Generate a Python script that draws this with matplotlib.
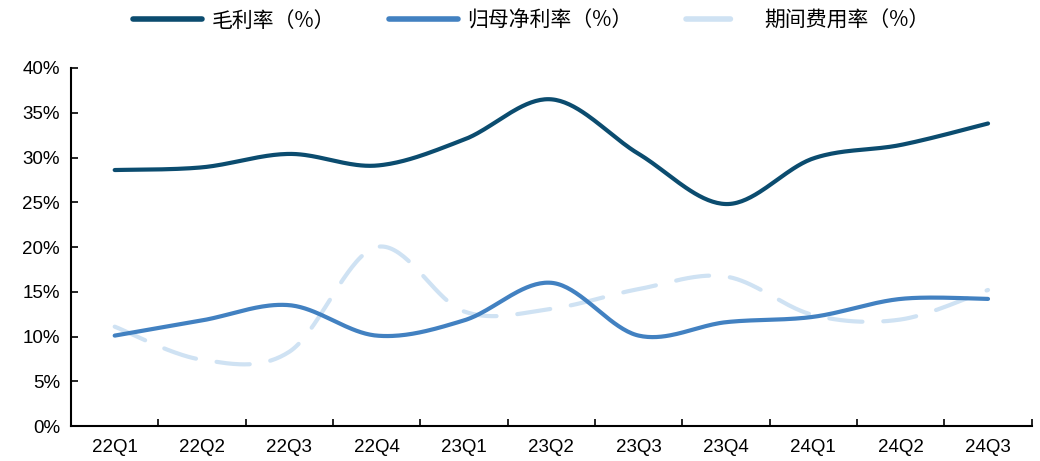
import numpy as np
import matplotlib
matplotlib.use("Agg")
import matplotlib.pyplot as plt
from matplotlib.ticker import FixedLocator, PercentFormatter

plt.rcParams['font.family'] = ['Liberation Sans', 'Noto Sans CJK SC', 'DejaVu Sans']

categories = ['22Q1', '22Q2', '22Q3', '22Q4', '23Q1', '23Q2', '23Q3', '23Q4', '24Q1', '24Q2', '24Q3']
gross_margin = [28.6, 28.9, 30.4, 29.1, 32.0, 36.5, 30.4, 24.8, 29.9, 31.4, 33.8]
net_margin = [10.1, 11.8, 13.5, 10.1, 11.8, 16.0, 10.1, 11.6, 12.2, 14.2, 14.2]
expense_ratio = [11.1, 7.4, 8.3, 20.0, 12.8, 13.1, 15.3, 16.7, 12.4, 11.9, 15.2]
series_names = ['毛利率（%）', '归母净利率（%）', '期间费用率（%）']


def smooth(xs, ys, n=40):
    """Excel-style smoothed line (Catmull-Rom Bezier) through the data points."""
    xs = np.asarray(xs, float)
    ys = np.asarray(ys, float)
    pts = np.column_stack([xs, ys])
    out = [pts[0]]
    for i in range(len(pts) - 1):
        p0 = pts[i - 1] if i > 0 else pts[i]
        p1 = pts[i]
        p2 = pts[i + 1]
        p3 = pts[i + 2] if i + 2 < len(pts) else pts[i + 1]
        c1 = p1 + (p2 - p0) / 6.0
        c2 = p2 - (p3 - p1) / 6.0
        t = np.linspace(0, 1, n)[1:, None]
        seg = ((1 - t) ** 3) * p1 + 3 * ((1 - t) ** 2) * t * c1 + 3 * (1 - t) * t ** 2 * c2 + t ** 3 * p2
        out.extend(seg)
    out = np.array(out)
    return out[:, 0], out[:, 1]


fig = plt.figure(figsize=(10.4, 4.61), dpi=100)
ax = fig.add_axes([0.0683, 0.0759, 0.9237, 0.7766])

x = np.arange(len(categories))
colors = ['#0B4C6F', '#4281C1', '#CFE2F3']

xs, ys = smooth(x, gross_margin)
ax.plot(xs, ys, color=colors[0], lw=3, solid_capstyle='round', label=series_names[0], zorder=3)
xs, ys = smooth(x, net_margin)
ax.plot(xs, ys, color=colors[1], lw=3, solid_capstyle='round', label=series_names[1], zorder=2)
xs, ys = smooth(x, expense_ratio)
ax.plot(xs, ys, color=colors[2], lw=3, dashes=(8, 5), dash_capstyle='round', label=series_names[2], zorder=1)

ax.set_xlim(-0.5, len(categories) - 0.5)
ax.set_ylim(0, 40)
ax.yaxis.set_major_locator(FixedLocator(np.arange(0, 41, 5)))
ax.yaxis.set_major_formatter(PercentFormatter(decimals=0))

ax.set_xticks(x)
ax.set_xticklabels(categories)
ax.set_xticks(np.arange(-0.5, len(categories)), minor=True)
ax.tick_params(axis='x', which='major', length=0, pad=9, labelsize=13.5)
ax.tick_params(axis='x', which='minor', direction='in', length=5, width=1.2, color='black')
ax.tick_params(axis='y', direction='in', length=5, width=1.2, labelsize=13.5, pad=8)

for s in ['top', 'right']:
    ax.spines[s].set_visible(False)
for s in ['left', 'bottom']:
    ax.spines[s].set_linewidth(1.5)
    ax.spines[s].set_color('black')

leg = fig.legend(loc='upper center', bbox_to_anchor=(0.511, 1.02), ncol=3, frameon=False,
                 prop={'family': ['Noto Sans CJK SC', 'DejaVu Sans'], 'size': 15},
                 handlelength=3.3, columnspacing=2.6, handletextpad=0.45)
for h in leg.get_lines():
    h.set_linewidth(4)

fig.savefig('out.png', dpi=100)
